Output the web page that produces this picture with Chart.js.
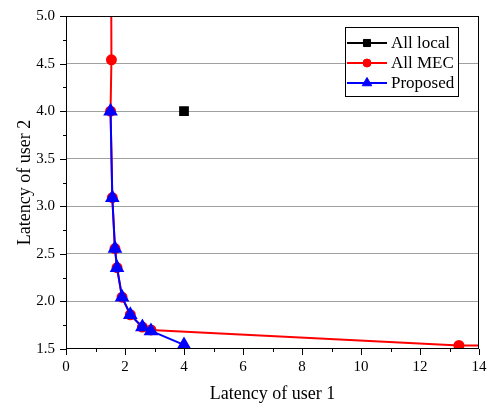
<!DOCTYPE html>
<html>
<head>
<meta charset="utf-8">
<title>Latency of user 1 vs user 2</title>
<script src="https://cdn.jsdelivr.net/npm/chart.js@4.4.1/dist/chart.umd.min.js"></script>
<style>
  html, body { margin: 0; padding: 0; background: #fff; }
  #chart-container { width: 491px; height: 405px; }
</style>
</head>
<body>
<div id="chart-container"><canvas id="latency-chart" width="491" height="405"></canvas></div>
<script>
// data
const seriesNames = ['All local', 'All MEC', 'Proposed'];

const localX = [4.0];
const localY = [4.0];

// first and last MEC points sit outside the axes (line runs off the frame)
const mecX = [1.50, 1.54, 1.51, 1.57, 1.66, 1.73, 1.90, 2.18, 2.59, 2.88, 13.32, 20.0];
const mecY = [8.00, 4.54, 4.00, 3.09, 2.555, 2.355, 2.045, 1.86, 1.73, 1.70, 1.537, 1.537];

const proposedX = [1.51, 1.57, 1.66, 1.73, 1.90, 2.18, 2.59, 2.88, 4.0];
const proposedY = [4.00, 3.09, 2.555, 2.355, 2.045, 1.86, 1.73, 1.69, 1.543];

const xTicks = [0, 2, 4, 6, 8, 10, 12, 14];
const yTicks = ['1.5', '2.0', '2.5', '3.0', '3.5', '4.0', '4.5', '5.0'];

const serif = "'Liberation Serif', 'Times New Roman', serif";

function toPoints(xs, ys) {
  return xs.map((x, i) => ({ x, y: ys[i] }));
}

function isMajor(value, step) {
  return Math.abs(value / step - Math.round(value / step)) < 1e-6;
}

// frame, tick marks and boxed legend inside the plot
const framePlugin = {
  id: 'frame',
  afterDraw(chart) {
    const ctx = chart.ctx;
    const ca = chart.chartArea;
    const xs = chart.scales.x;
    const ys = chart.scales.y;

    ctx.save();
    ctx.strokeStyle = '#000';
    ctx.lineWidth = 1;
    ctx.strokeRect(ca.left + 0.5, ca.top + 0.5, ca.right - ca.left - 1, ca.bottom - ca.top - 1);

    ctx.beginPath();
    xs.ticks.forEach(t => {
      const px = Math.round(xs.getPixelForValue(t.value)) + 0.5;
      const len = isMajor(t.value, 2) ? 6 : 3;
      ctx.moveTo(px, ca.bottom);
      ctx.lineTo(px, ca.bottom + len);
    });
    ys.ticks.forEach(t => {
      const py = Math.round(ys.getPixelForValue(t.value)) + 0.5;
      const len = isMajor(t.value, 0.5) ? 6 : 3;
      ctx.moveTo(ca.left, py);
      ctx.lineTo(ca.left - len, py);
    });
    ctx.stroke();

    // legend
    const boxW = 113, boxH = 69;
    const bx = ca.right - 21 - boxW;
    const by = ca.top + 11;
    ctx.fillStyle = '#fff';
    ctx.fillRect(bx, by, boxW, boxH);
    ctx.strokeRect(bx + 0.5, by + 0.5, boxW, boxH);

    ctx.font = '17px ' + serif;
    ctx.textBaseline = 'middle';
    ctx.textAlign = 'left';
    chart.data.datasets.forEach((ds, i) => {
      const rowY = by + 16 + i * 20;
      ctx.strokeStyle = ds.borderColor;
      ctx.lineWidth = 2;
      ctx.beginPath();
      ctx.moveTo(bx + 2, rowY);
      ctx.lineTo(bx + 42, rowY);
      ctx.stroke();
      ctx.fillStyle = ds.backgroundColor;
      ctx.strokeStyle = ds.borderColor;
      ctx.lineWidth = 1;
      Chart.helpers.drawPoint(ctx, {
        pointStyle: ds.pointStyle,
        radius: ds.legendRadius,
        rotation: 0,
        borderWidth: 1
      }, bx + 22, rowY);
      ctx.fillStyle = '#000';
      ctx.fillText(ds.label, bx + 46, rowY + 1);
    });
    ctx.restore();
  }
};

function renderChart() {
  const ctx = document.getElementById('latency-chart');

  new Chart(ctx, {
    type: 'line',
    data: {
      datasets: [
        {
          label: seriesNames[0],
          data: toPoints(localX, localY),
          borderColor: '#000',
          backgroundColor: '#000',
          pointStyle: 'rect',
          pointRadius: 5.5,
          legendRadius: 5,
          borderWidth: 2,
          showLine: false,
          order: 2
        },
        {
          label: seriesNames[1],
          data: toPoints(mecX, mecY),
          borderColor: '#ff0000',
          backgroundColor: '#ff0000',
          pointStyle: 'circle',
          pointRadius: mecX.map((x, i) => (i === 0 || i === mecX.length - 1) ? 0 : 4.5),
          legendRadius: 4,
          borderWidth: 2,
          tension: 0,
          order: 3
        },
        {
          label: seriesNames[2],
          data: toPoints(proposedX, proposedY),
          borderColor: '#0000ff',
          backgroundColor: '#0000ff',
          pointStyle: 'triangle',
          pointRadius: 6.5,
          legendRadius: 5.5,
          borderWidth: 2,
          tension: 0,
          order: 1
        }
      ]
    },
    options: {
      responsive: false,
      animation: false,
      devicePixelRatio: 1,
      layout: { padding: { left: 0, right: 12, top: 16, bottom: 0 } },
      plugins: {
        legend: { display: false },
        tooltip: { enabled: false }
      },
      scales: {
        x: {
          type: 'linear',
          min: 0,
          max: 14,
          afterFit: scale => {
            scale.height = 56;
            scale.paddingLeft = 0;
            scale.paddingRight = 0;
          },
          ticks: {
            stepSize: 1,
            padding: 9,
            color: '#000',
            font: { family: serif, size: 15 },
            callback: v => xTicks.includes(v) ? String(v) : ''
          },
          grid: { display: false, drawTicks: false },
          border: { display: false },
          title: {
            display: true,
            text: 'Latency of user 1',
            color: '#000',
            font: { family: serif, size: 18 },
            padding: { top: 0, bottom: 0 }
          }
        },
        y: {
          type: 'linear',
          min: 1.5,
          max: 5.0,
          afterFit: scale => {
            scale.width = 66;
            scale.paddingTop = 0;
            scale.paddingBottom = 0;
          },
          ticks: {
            stepSize: 0.25,
            padding: 11,
            color: '#000',
            font: { family: serif, size: 15 },
            callback: v => {
              const s = v.toFixed(1);
              return isMajor(v, 0.5) && yTicks.includes(s) ? s : '';
            }
          },
          grid: {
            drawTicks: false,
            lineWidth: 1,
            color: c => {
              const v = c.tick.value;
              if (!isMajor(v, 0.5) || v <= 1.5 || v >= 5.0) return 'rgba(0,0,0,0)';
              return '#a0a0a0';
            }
          },
          border: { display: false },
          title: {
            display: true,
            text: 'Latency of user 2',
            color: '#000',
            font: { family: serif, size: 18 },
            padding: { top: 14, bottom: 0 }
          }
        }
      }
    },
    plugins: [framePlugin]
  });
}

renderChart();
</script>
</body>
</html>
